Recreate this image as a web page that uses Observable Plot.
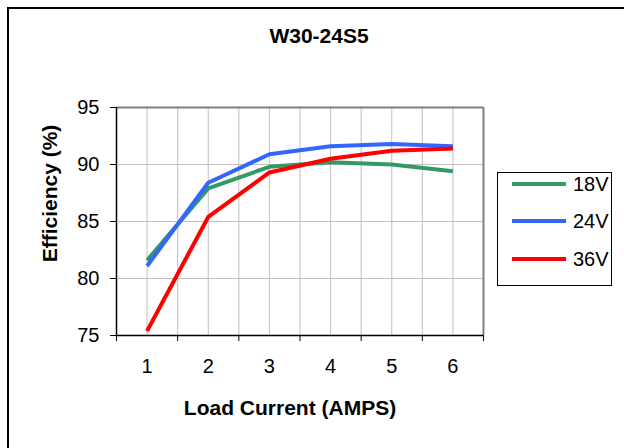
<!DOCTYPE html>
<html>
<head>
<meta charset="utf-8">
<script src="https://cdn.jsdelivr.net/npm/d3@7"></script>
<script src="https://cdn.jsdelivr.net/npm/@observablehq/plot@0.6"></script>
<style>
  html, body { margin: 0; padding: 0; background: #fff; }
  #wrap { position: relative; width: 624px; height: 448px; overflow: hidden; background: #fff; font-family: "Liberation Sans", Arial, sans-serif; color: #000; }
  #frame { position: absolute; left: 7px; top: 7px; width: 700px; height: 500px; border-left: 2px solid #000; border-top: 2px solid #000; }
  #chart { position: absolute; left: 0; top: 0; }
  .title { position: absolute; font-weight: bold; font-size: 21px; line-height: 21px; white-space: nowrap; text-align: center; }
  #legend { position: absolute; left: 497px; top: 172px; width: 113px; height: 112px; border: 1px solid #000; background: #fff; }
  .lrow { position: absolute; left: 0; height: 20px; width: 113px; }
  .lrow svg { position: absolute; left: 14px; top: 0; }
  .lrow span { position: absolute; left: 75px; top: 0; font-size: 20px; line-height: 20px; }
</style>
</head>
<body>
<div id="wrap">
  <div id="frame"></div>
  <div id="chart"></div>
  <div class="title" style="left:169px; top:25px; width:300px;">W30-24S5</div>
  <div class="title" style="left:140px; top:397px; width:300px;">Load Current (AMPS)</div>
  <div class="title" style="left:-101px; top:183px; width:300px; transform: rotate(-90deg); transform-origin: 150px 10.5px;">Efficiency (%)</div>
  <div id="legend"></div>
</div>
<script>
const currents = [1, 2, 3, 4, 5, 6];
const eff18 = [81.6, 87.9, 89.8, 90.2, 90.0, 89.4];
const eff24 = [81.1, 88.4, 90.9, 91.6, 91.8, 91.6];
const eff36 = [75.4, 85.4, 89.3, 90.5, 91.2, 91.4];
const seriesNames = ["18V", "24V", "36V"];
const seriesColors = ["#339966", "#3366ff", "#ff0000"];
const yTicks = [75, 80, 85, 90, 95];
const xBounds = [0.5, 1.5, 2.5, 3.5, 4.5, 5.5, 6.5];
const xGrid = [1, 1.5, 2, 2.5, 3, 3.5, 4, 4.5, 5, 5.5, 6];

const seriesValues = [eff18, eff24, eff36];
const rows = seriesNames.flatMap((s, i) => currents.map((c, j) => ({ series: s, current: c, eff: seriesValues[i][j] })));

const plot = Plot.plot({
  width: 624,
  height: 448,
  marginLeft: 116,
  marginRight: 141,
  marginTop: 107,
  marginBottom: 113,
  style: { fontFamily: "'Liberation Sans', Arial, sans-serif", fontSize: "20px", color: "#000", background: "transparent", overflow: "visible" },
  x: { domain: [0.5, 6.5] },
  y: { domain: [75, 95] },
  color: { domain: seriesNames, range: seriesColors },
  marks: [
    Plot.ruleX(xGrid, { stroke: "#c0c0c0", strokeWidth: 1 }),
    Plot.ruleY([80, 85, 90], { stroke: "#c0c0c0", strokeWidth: 1 }),
    Plot.ruleY([95], { stroke: "#808080", strokeWidth: 2 }),
    Plot.ruleX([6.5], { stroke: "#808080", strokeWidth: 2 }),
    Plot.line(rows, { x: "current", y: "eff", z: "series", stroke: "series", strokeWidth: 4, strokeLinejoin: "round", strokeLinecap: "butt" }),
    Plot.ruleX([0.5], { stroke: "#000", strokeWidth: 1.5 }),
    Plot.ruleY([75], { stroke: "#000", strokeWidth: 1.5 }),
    Plot.axisY({ ticks: yTicks, tickSize: 6, tickPadding: 11, fontSize: 20, label: null, stroke: "#000", tickFormat: d => String(d) }),
    Plot.axisX({ ticks: xBounds, tickSize: 6, tickFormat: () => "", label: null, stroke: "#000" }),
    Plot.axisX({ ticks: currents, tickSize: 0, tickPadding: 23, fontSize: 20, label: null, tickFormat: d => String(d) })
  ]
});
document.getElementById("chart").appendChild(plot);

const legend = document.getElementById("legend");
const rowTops = [1, 38, 76];
seriesNames.forEach((s, i) => {
  const r = document.createElement("div");
  r.className = "lrow";
  r.style.top = rowTops[i] + "px";
  r.innerHTML = `<svg width="54" height="20"><line x1="0" x2="54" y1="10" y2="10" stroke="${seriesColors[i]}" stroke-width="4"/></svg><span>${s}</span>`;
  legend.appendChild(r);
});
</script>
</body>
</html>
